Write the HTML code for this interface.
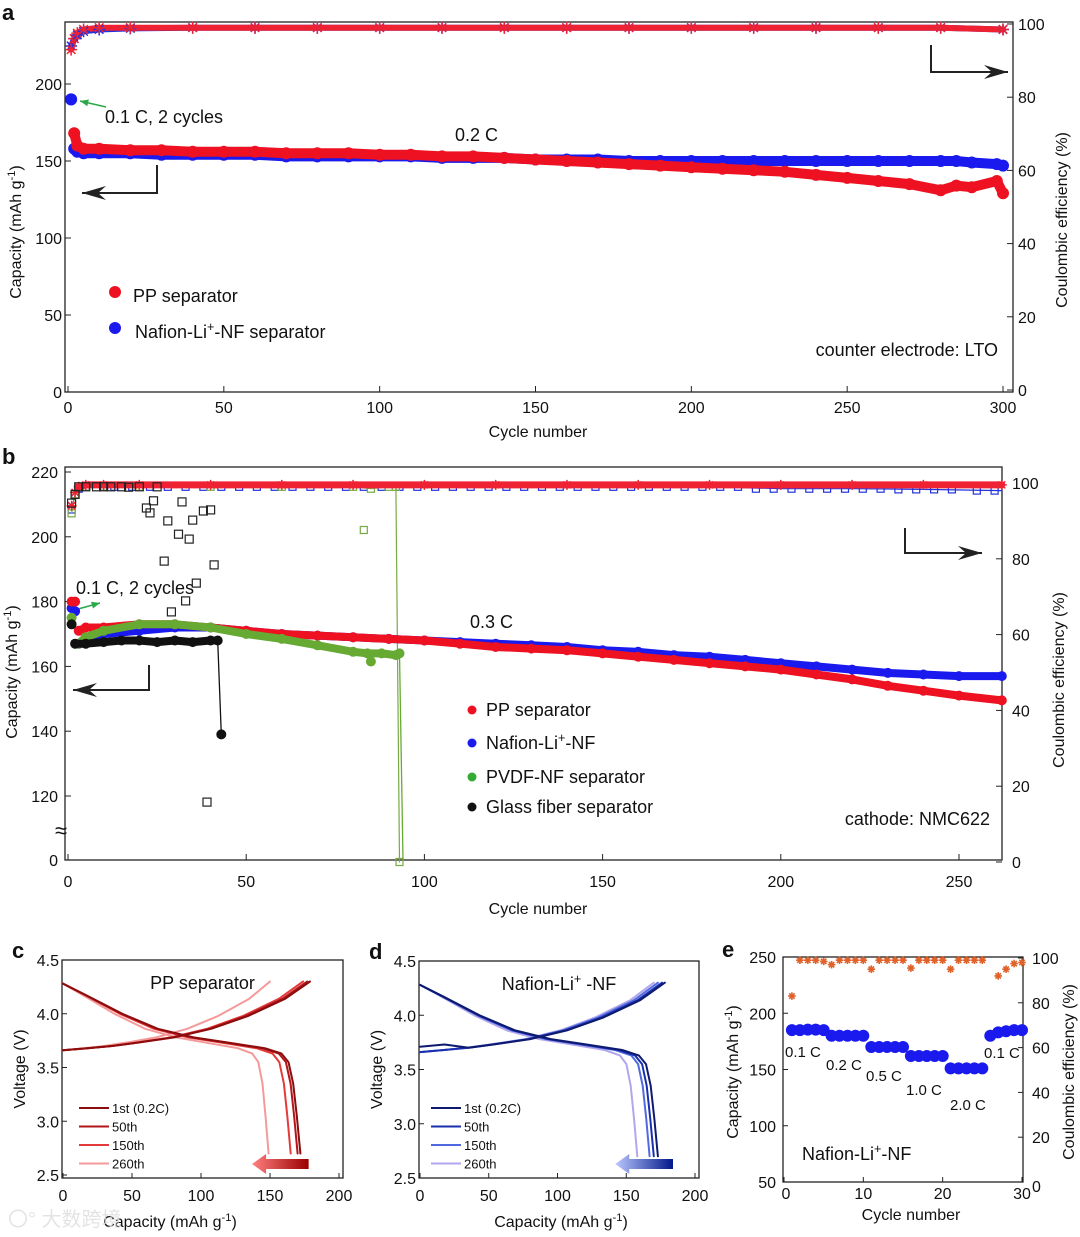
<!DOCTYPE html>
<html><head><meta charset="utf-8">
<style>
html,body{margin:0;padding:0;background:#fff;}
svg{display:block;font-family:"Liberation Sans","Noto Sans CJK SC",sans-serif;}
</style></head>
<body>
<svg id="fig" width="1080" height="1237" viewBox="0 0 1080 1237" xmlns="http://www.w3.org/2000/svg">
<g id="static"></g>
<g id="marks"></g>
</svg>
<script>
// ---------- Panel a data ----------
const aCycles = [1,2,3,5,10,20,30,40,50,60,70,80,90,100,110,120,130,140,150,160,170,180,190,200,210,220,230,240,250,260,270,280,285,290,298,300];
const aPP     = [190,168,160,158,158,157,157,156,156,156,155,155,155,154,154,153,153,152,151,150,149,148,147,146,145,144,143,141,139,137,135,131,134,133,137,129];
const aNafion = [190,158,156,155,155,155,154,154,154,154,153,153,153,153,153,152,152,152,151,151,151,150,150,150,150,150,150,150,150,150,150,150,150,149,148,147];
const aCEcycles = [1,2,3,5,10,20,40,60,80,100,120,140,160,180,200,220,240,260,280,300];
const aCE_PP    = [93,96,97.5,98.5,99,99,99,99,99,99,99,99,99,99,99,99,99,99,99,98.5];
const aCE_Naf   = [94,96,97,98,98.5,98.8,99,99,99,99,99,99,99,99,99,99,99,99,99,98.5];
const aXTicks = [0,50,100,150,200,250,300];
const aYTicks = [0,50,100,150,200];
const aY2Ticks = [0,20,40,60,80,100];

// ---------- Panel b data ----------
const bCycles  = [1,2,3,5,10,20,30,40,50,60,70,80,90,100,110,120,130,140,150,160,170,180,190,200,210,220,230,240,250,262];
const bPP      = [180,180,171,172,172,173,173,172,171,170,169.5,169,168.5,168,167,166,165.5,165,164,163,162,161,160,159,157.5,156,154,152.5,151,149.5];
const bNafion  = [178,177,167,169,170,171,172,172,171,170,169.5,169,168.5,168,167.5,167,166.5,166,165,164.5,163.5,163,162,161,160,159,158,157.5,157,157];
const bPVcycles = [1,3,5,10,20,30,40,50,60,70,80,84,85,88,92,93,94];
const bPVDF     = [175,167,169,171,173,173,172,170,168.5,166.5,164.5,164,161.5,164,163.5,164,0];
const bGFcycles = [1,2,5,10,15,20,25,30,35,40,42,43];
const bGlass    = [173,167,167,167.5,168,168,167.5,168,167.5,168,168,139];
const bCEcycles = [1,2,3,5,10,20,40,60,80,100,120,140,160,180,200,220,240,262];
const bCE_PP    = [94,97.5,99,99.5,99.5,99.5,99.5,99.5,99.5,99.5,99.5,99.5,99.5,99.5,99.5,99.5,99.5,99.5];
const bCE_Naf   = [93,97,98.5,99,99,99,99,99,99,99,99,99,99,99,98.5,98.5,98.3,98];
const bCE_PVcyc = [1,2,5,10,20,40,60,80,83,85,90,92,93];
const bCE_PVDF  = [92,97,99,99,99,99,99,99,87.6,98.5,99,99,0];
const bCE_GFcyc = [1,2,3,5,8,10,12,15,17,20,22,23,24,25,27,28,29,31,32,33,34,35,36,38,39,40,41];
const bCE_Glass = [94.7,97,99,99,99,99,99,99,98.9,99,93.4,92.1,95.3,99,79.4,90,66,86.5,95,68.9,85.2,90.2,73.6,92.6,15.8,92.9,78.4];
const bXTicks = [0,50,100,150,200,250];
const bYTicks = [120,140,160,180,200,220];
const bY2Ticks = [0,20,40,60,80,100];

// ---------- Panel c/d data ----------
const cLabels = ["1st (0.2C)","50th","150th","260th"];
const cChargeCap = [179,177,174,150];
const cDischCap  = [172,170,165,149];
const dChargeCap = [178,176,173,170];
const dDischCap  = [173,170,167,158];
const chgFrac = [0,0.1,0.2,0.3,0.45,0.6,0.75,0.9,1.0];
const chgV    = [3.66,3.68,3.70,3.73,3.78,3.86,3.98,4.14,4.30];
const disFrac = [0,0.1,0.25,0.4,0.55,0.7,0.85,0.92,0.95,0.97,0.985,1.0];
const disV    = [4.28,4.17,4.00,3.86,3.78,3.73,3.68,3.63,3.55,3.35,3.05,2.70];
const cdXTicks = [0,50,100,150,200];
const cdYTicks = [2.5,3.0,3.5,4.0,4.5];

// ---------- Panel e data ----------
const eCycles = [1,2,3,4,5,6,7,8,9,10,11,12,13,14,15,16,17,18,19,20,21,22,23,24,25,26,27,28,29,30];
const eCap = [185,185,185.5,185.5,185,180,180,180,180,180,170,170,170,170,170,162,162,162,162,162,151,151,151,151,151,180,183,184,185,185];
const eCE  = [83,99,99,99,98.5,97,99,99,99,99,95,99,99,99,99,95.5,99,99,99,99,95,99,99,99,99,null,92,95,97.5,98];
const eXTicks = [0,10,20,30];
const eYTicks = [50,100,150,200,250];
const eY2Ticks = [0,20,40,60,80,100];

const NS = "http://www.w3.org/2000/svg";
const S = document.getElementById('static');
const M = document.getElementById('marks');
function el(tag, attrs, parent){ const e=document.createElementNS(NS,tag); for(const k in attrs) e.setAttribute(k,attrs[k]); (parent||S).appendChild(e); return e; }
function txt(x,y,s,size,anchor,parent,extra){ const t=el('text',Object.assign({x:x,y:y,'font-size':size,'text-anchor':anchor||'start',fill:'#111'},extra||{}),parent); t.textContent=s; return t; }
function lin(x0,x1,p0,p1){ return v => p0+(v-x0)*(p1-p0)/(x1-x0); }

function frame(x0,y0,x1,y1,name){
  const r=el('rect',{x:x0,y:y0,width:x1-x0,height:y1-y0,fill:'none',stroke:'#222','stroke-width':1.3});
  
  
}
function polyline(pts,color,w,parent,name){
  const p=el('polyline',{points:pts.map(p=>p[0].toFixed(1)+','+p[1].toFixed(1)).join(' '),fill:'none',stroke:color,'stroke-width':w,'stroke-linejoin':'round','stroke-linecap':'round'},parent);
  
  
  return p;
}
function dot(x,y,r,color,parent,name){
  const c=el('circle',{cx:x.toFixed(1),cy:y.toFixed(1),r:r,fill:color},parent);
  
  
}
function star(x,y,r,color,parent,name,w){
  let d='';
  for(let k=0;k<4;k++){const a=k*Math.PI/4;const dx=Math.cos(a)*r,dy=Math.sin(a)*r;d+=`M${(x-dx).toFixed(1)},${(y-dy).toFixed(1)}L${(x+dx).toFixed(1)},${(y+dy).toFixed(1)}`;}
  const p=el('path',{d:d,stroke:color,'stroke-width':w||1.5,fill:'none'},parent);
  
  
}
function sq(x,y,s,color,parent,name){
  const r=el('rect',{x:(x-s/2).toFixed(1),y:(y-s/2).toFixed(1),width:s,height:s,fill:'none',stroke:color,'stroke-width':1.2},parent);
  
  
}
function bentArrow(pts,name){
  const g=el('g',{});
  
  
  el('polyline',{points:pts.map(p=>p.join(',')).join(' '),fill:'none',stroke:'#222','stroke-width':2},g);
  const [xa,ya]=pts[pts.length-1], [xb]=pts[pts.length-2];
  const dir = xa<xb?-1:1;
  el('polygon',{points:`${xa},${ya} ${xa-dir*24},${ya-7} ${xa-dir*16},${ya} ${xa-dir*24},${ya+7}`,fill:'#222'},g);
}
function greenArrow(x0,y0,x1,y1,name){
  const g=el('g',{});
  
  
  el('line',{x1:x0,y1:y0,x2:x1,y2:y1,stroke:'#2aa84a','stroke-width':1.5},g);
  const a=Math.atan2(y1-y0,x1-x0);
  const p=(ang,l)=>[x1-Math.cos(a+ang)*l,y1-Math.sin(a+ang)*l];
  const q1=p(0.4,9),q2=p(-0.4,9);
  el('polygon',{points:`${x1},${y1} ${q1.join(',')} ${q2.join(',')}`,fill:'#2aa84a'},g);
}
function panelLetter(x,y,s){ const t=txt(x,y,s,22,'start',S,{'font-weight':'bold'});   }
function rotTitle(x,y,s,size,name){
  const t=el('text',{x:0,y:0,'font-size':size,'text-anchor':'middle',fill:'#111',transform:`translate(${x},${y}) rotate(-90)`});
  
  
  return t;
}
function addSpans(t,parts){ parts.forEach(p=>{const s=el('tspan',p.sup?{'baseline-shift':'super','font-size':'70%'}:{},t); s.textContent=p.t;}); }

// ================= PANEL A =================
(function(){
  const X0=65,X1=1013,Y0=22,Y1=392;
  const xs=lin(0,300,68,1003), ys=lin(0,200,392,84), y2=lin(0,100,390,24);
  frame(X0,Y0,X1,Y1,'panel-a-frame');
  panelLetter(2,20,'a');
  aXTicks.forEach(v=>{ el('line',{x1:xs(v),y1:Y1,x2:xs(v),y2:Y1-6,stroke:'#222'}); const t=txt(xs(v),413,String(v),16,'middle');   });
  aYTicks.forEach(v=>{ el('line',{x1:X0,y1:ys(v),x2:X0+6,y2:ys(v),stroke:'#222'}); const t=txt(62,ys(v)+6,String(v),16,'end');   });
  aY2Ticks.forEach(v=>{ el('line',{x1:X1,y1:y2(v),x2:X1-6,y2:y2(v),stroke:'#222'}); const t=txt(1018,y2(v)+6,String(v),16,'start');   });
  const xt=txt(538,437,'Cycle number',16,'middle');  
  const yt=rotTitle(21,232,'',16,'y-axis-title-a'); addSpans(yt,[{t:'Capacity (mAh g'},{t:'-1',sup:1},{t:')'}]);
  const y2t=rotTitle(1067,220,'',16,'y2-axis-title-a'); y2t.textContent='Coulombic efficiency (%)';
  polyline(aCEcycles.map((c,i)=>[xs(c),y2(aCE_Naf[i])]),'#2233dd',6,M,'ce-line-nafion-a');
  polyline(aCEcycles.map((c,i)=>[xs(c),y2(aCE_PP[i])]),'#ee2233',6,M,'ce-line-pp-a');
  aCEcycles.forEach((c,i)=>{ star(xs(c),y2(aCE_Naf[i]),6,'#2233dd',M,'ce-point-nafion-a'); star(xs(c),y2(aCE_PP[i]),6,'#ee2233',M,'ce-point-pp-a'); });
  polyline(aCycles.slice(1).map((c,i)=>[xs(c),ys(aNafion[i+1])]),'#1a1aee',10,M,'capacity-line-nafion-a');
  aCycles.forEach((c,i)=>dot(xs(c),ys(aNafion[i]),6,'#1a1aee',M,'capacity-point-nafion-a'));
  polyline(aCycles.slice(1).map((c,i)=>[xs(c),ys(aPP[i+1])]),'#ee1122',10,M,'capacity-line-pp-a');
  aCycles.slice(1).forEach((c,i)=>dot(xs(c),ys(aPP[i+1]),6,'#ee1122',M,'capacity-point-pp-a'));
  dot(xs(1),ys(aNafion[0]),6,'#1a1aee',M,'capacity-point-nafion-first');
  greenArrow(106,107,80,101,'annotation-arrow-a');
  txt(105,123,'0.1 C, 2 cycles',18,'start');
  txt(455,141,'0.2 C',18,'start');
  bentArrow([[157,165],[157,193],[82,193]],'left-axis-arrow-a');
  bentArrow([[931,45],[931,72],[1008,72]],'right-axis-arrow-a');
  dot(115,292,6,'#ee1122',S,'legend-marker-pp-a');
  txt(133,302,'PP separator',18,'start');
  dot(115,328,6,'#1a1aee',S,'legend-marker-nafion-a');
  const l2=txt(135,338,'',18,'start');  addSpans(l2,[{t:'Nafion-Li'},{t:'+',sup:1},{t:'-NF separator'}]);
  txt(998,356,'counter electrode: LTO',18,'end');
})();

// ================= PANEL B =================
(function(){
  const X0=65,X1=1002,Y0=467,Y1=860;
  const ys=v=> v>=110 ? 472+(220-v)*3.24 : 860-v*(860-828)/110;
  const y2=lin(0,100,862,483);
  frame(X0,Y0,X1,Y1,'panel-b-frame');
  panelLetter(2,464,'b');
  const bx=lin(0,250,68,959);
  bXTicks.forEach(v=>{ el('line',{x1:bx(v),y1:Y1,x2:bx(v),y2:Y1-6,stroke:'#222'}); const t=txt(bx(v),887,String(v),16,'middle');   });
  bYTicks.forEach(v=>{ el('line',{x1:X0,y1:ys(v),x2:X0+6,y2:ys(v),stroke:'#222'}); const t=txt(58,ys(v)+6,String(v),16,'end');   });
  txt(58,866,'0',16,'end');
  txt(55,838,'≈',22,'start');
  bY2Ticks.forEach(v=>{ el('line',{x1:X1,y1:y2(v),x2:X1-6,y2:y2(v),stroke:'#222'}); const t=txt(1012,y2(v)+6,String(v),16,'start');   });
  txt(538,914,'Cycle number',16,'middle');
  const yt=rotTitle(17,672,'',16,'y-axis-title-b'); addSpans(yt,[{t:'Capacity (mAh g'},{t:'-1',sup:1},{t:')'}]);
  rotTitle(1064,680,'',16,'y2-axis-title-b').textContent='Coulombic efficiency (%)';
  const xsb=c=>68+c*(959-68)/250;
  polyline(bCEcycles.map((c,i)=>[xsb(c),y2(bCE_Naf[i])]),'#2233dd',1.2,M,'ce-line-nafion-b');
  bCEcycles.forEach((c,i)=>{ for(let k=0;k<(c>=20?4:1);k++){ const cc=c+k*5-(c>=20?7:0); if(cc<=262) sq(xsb(cc),y2(bCE_Naf[i]),7,'#2233dd',M,'ce-point-nafion-b'); } });
  polyline(bCE_PVcyc.map((c,i)=>[xsb(c),y2(bCE_PVDF[i])]).filter((p,i)=>bCE_PVcyc[i]!==83),'#77aa44',1.2,M,'ce-line-pvdf-b');
  bCE_PVcyc.forEach((c,i)=>sq(xsb(c),y2(bCE_PVDF[i]),7,'#77aa44',M,'ce-point-pvdf-b'));
  polyline(bCEcycles.map((c,i)=>[xsb(c),y2(bCE_PP[i])]).slice(2),'#ee2233',7,M,'ce-line-pp-b');
  bCEcycles.forEach((c,i)=>star(xsb(c),y2(bCE_PP[i]),5,'#ee2233',M,'ce-point-pp-b'));
  bCE_GFcyc.forEach((c,i)=>sq(xsb(c),y2(bCE_Glass[i]),8,'#222',M,'ce-point-glass-b'));
  polyline(bCycles.slice(2).map((c,i)=>[xsb(c),ys(bNafion[i+2])]),'#1a1aee',8,M,'capacity-line-nafion-b');
  bCycles.forEach((c,i)=>dot(xsb(c),ys(bNafion[i]),5,'#1a1aee',M,'capacity-point-nafion-b'));
  polyline(bCycles.slice(2).map((c,i)=>[xsb(c),ys(bPP[i+2])]),'#ee1122',8,M,'capacity-line-pp-b');
  bCycles.forEach((c,i)=>dot(xsb(c),ys(bPP[i]),5,'#ee1122',M,'capacity-point-pp-b'));
  polyline(bPVcycles.slice(1,-1).filter(c=>c!==85).map(c=>[xsb(c),ys(bPVDF[bPVcycles.indexOf(c)])]),'#66aa33',8,M,'capacity-line-pvdf-b');
  polyline([[xsb(93),ys(bPVDF[15])],[xsb(94),ys(bPVDF[16])]],'#66aa33',1.3,M,'capacity-drop-pvdf-b');
  bPVcycles.slice(0,-1).forEach((c,i)=>dot(xsb(c),ys(bPVDF[i]),5,'#66aa33',M,'capacity-point-pvdf-b'));
  polyline(bGFcycles.slice(1,-1).map((c,i)=>[xsb(c),ys(bGlass[i+1])]),'#111',8,M,'capacity-line-glass-b');
  polyline([[xsb(42),ys(bGlass[10])],[xsb(43),ys(bGlass[11])]],'#111',1.3,M,'capacity-drop-glass-b');
  bGFcycles.forEach((c,i)=>dot(xsb(c),ys(bGlass[i]),5,'#111',M,'capacity-point-glass-b'));
  greenArrow(78,609,100,603,'annotation-arrow-b');
  txt(76,594,'0.1 C, 2 cycles',18,'start');
  txt(470,628,'0.3 C',18,'start');
  bentArrow([[149,665],[149,690],[73,690]],'left-axis-arrow-b');
  bentArrow([[905,528],[905,553],[982,553]],'right-axis-arrow-b');
  const leg=[['#ee1122','PP separator',710],['#1a1aee','Nafion-Li|-NF',743],['#33aa33','PVDF-NF separator',777],['#111','Glass fiber separator',807]];
  leg.forEach((L,i)=>{ dot(472,L[2],4.5,L[0],S,'legend-marker-b-'+i); const t=txt(486,L[2]+6,'',18,'start');   if(L[1].includes('|')) addSpans(t,[{t:'Nafion-Li'},{t:'+',sup:1},{t:'-NF'}]); else t.textContent=L[1]; });
  txt(990,825,'cathode: NMC622',18,'end');
})();

// ================= PANELS C, D =================
function vPanel(X0,X1,Y0,Y1,vTop,vBot,chg,dis,colors,title,letter,lx,xTitleX,arrowCols){
  const xs=lin(0,200,X0+1,X1-4), ys=lin(2.5,4.5,vBot,vTop);
  frame(X0,Y0,X1,Y1,'panel-'+letter+'-frame');
  panelLetter(X0-50,Y0-2,letter);
  cdXTicks.forEach(v=>{ el('line',{x1:xs(v),y1:Y1,x2:xs(v),y2:Y1-5,stroke:'#222'}); const t=txt(xs(v),Y1+23,String(v),16,'middle');   });
  cdYTicks.forEach(v=>{ el('line',{x1:X0,y1:ys(v),x2:X0+5,y2:ys(v),stroke:'#222'}); const t=txt(X0-3,ys(v)+6,v.toFixed(1),16,'end');   });
  const xt=txt(xTitleX,Y1+49,'',16,'middle');  addSpans(xt,[{t:'Capacity (mAh g'},{t:'-1',sup:1},{t:')'}]);
  rotTitle(X0-37,(Y0+Y1)/2,'',16,'y-axis-title-'+letter).textContent='Voltage (V)';
  for(let k=colors.length-1;k>=0;k--){
    polyline(chgFrac.map((f,i)=>[xs(f*chg[k]),ys(chgV[i]+(letter==='d'&&k===0&&i<2?0.05:0))]),colors[k],2,M,'charge-curve-'+letter+'-'+k);
    polyline(disFrac.map((f,i)=>[xs(f*dis[k]),ys(disV[i])]),colors[k],2,M,'discharge-curve-'+letter+'-'+k);
  }
  const t=txt((X0+X1)/2,Y0+29,'',18,'middle');  addSpans(t,title);
  cLabels.forEach((s,k)=>{ const y=Y1-70+k*18.5; const l=el('line',{x1:lx,y1:y,x2:lx+30,y2:y,stroke:colors[k],'stroke-width':2});   txt(lx+33,y+5,s,13,'start'); });
  const gid='grad'+letter;
  const defs=el('defs',{}); const lg=el('linearGradient',{id:gid,x1:'0',x2:'1',y1:'0',y2:'0'},defs);
  el('stop',{offset:'0','stop-color':arrowCols[0]},lg); el('stop',{offset:'1','stop-color':arrowCols[1]},lg);
  const ax=xs(arrowCols[2]), bx2=xs(arrowCols[3]), ay=Y1-14;
  const ar=el('polygon',{points:`${ax},${ay} ${ax+14},${ay-10} ${ax+14},${ay-5} ${bx2},${ay-5} ${bx2},${ay+5} ${ax+14},${ay+5} ${ax+14},${ay+10}`,fill:`url(#${gid})`});
  
  
}
vPanel(62,343,960,1178,960,1175,cChargeCap,cDischCap,['#8b0d0d','#b3151a','#e43a3a','#f49a9a'],[{t:'PP separator'}],'c',79,170,['#ff8080','#9b0000',137,178]);
vPanel(419,699,961,1178,961,1178,dChargeCap,dDischCap,['#0d1a6e','#1a2fb0','#4f6ae0','#b3a6ec'],[{t:'Nafion-Li'},{t:'+',sup:1},{t:' -NF'}],'d',431,561,['#bcc8ff','#00188a',142,184]);

// ================= PANEL E =================
(function(){
  const X0=783,X1=1023,Y0=957,Y1=1182;
  const xs=lin(0,30,784,1022), ys=lin(50,250,1182,957), y2=lin(0,100,1182,958);
  frame(X0,Y0,X1,Y1,'panel-e-frame');
  panelLetter(722,957,'e');
  eXTicks.forEach(v=>{ el('line',{x1:xs(v),y1:Y1,x2:xs(v),y2:Y1-5,stroke:'#222'}); const t=txt(xs(v)+(v===0?2:0),1199,String(v),16,'middle');   });
  eYTicks.forEach(v=>{ el('line',{x1:X0,y1:ys(v),x2:X0+5,y2:ys(v),stroke:'#222'}); const t=txt(776,ys(v)+6,String(v),16,'end');   });
  eY2Ticks.forEach(v=>{ el('line',{x1:X1,y1:y2(v),x2:X1-5,y2:y2(v),stroke:'#222'}); const t=txt(1032,y2(v)+6+(v===0?4:0),String(v),16,'start');   });
  txt(911,1220,'Cycle number',16,'middle');
  const yt=rotTitle(738,1072,'',16,'y-axis-title-e'); addSpans(yt,[{t:'Capacity (mAh g'},{t:'-1',sup:1},{t:')'}]);
  rotTitle(1074,1072,'',16,'y2-axis-title-e').textContent='Coulombic efficiency (%)';
  eCycles.forEach((c,i)=>dot(xs(c),ys(eCap[i]),6,'#1a1aee',M,'rate-capacity-point'));
  eCycles.forEach((c,i)=>{ if(eCE[i]!==null) star(xs(c),y2(eCE[i]),3.8,'#e0622a',M,'rate-ce-point',1.6); });
  [['0.1 C',785,1057],['0.2 C',826,1070],['0.5 C',866,1081],['1.0 C',906,1095],['2.0 C',950,1110],['0.1 C',984,1058]].forEach((a,i)=>{ txt(a[1],a[2],a[0],15,'start'); });
  const n=txt(802,1160,'',18,'start');  addSpans(n,[{t:'Nafion-Li'},{t:'+',sup:1},{t:'-NF'}]);
})();

const wm=txt(8,1226,'〇° 大数跨境',20,'start',S,{fill:'#ddd',opacity:0.8});


</script>
</body></html>
